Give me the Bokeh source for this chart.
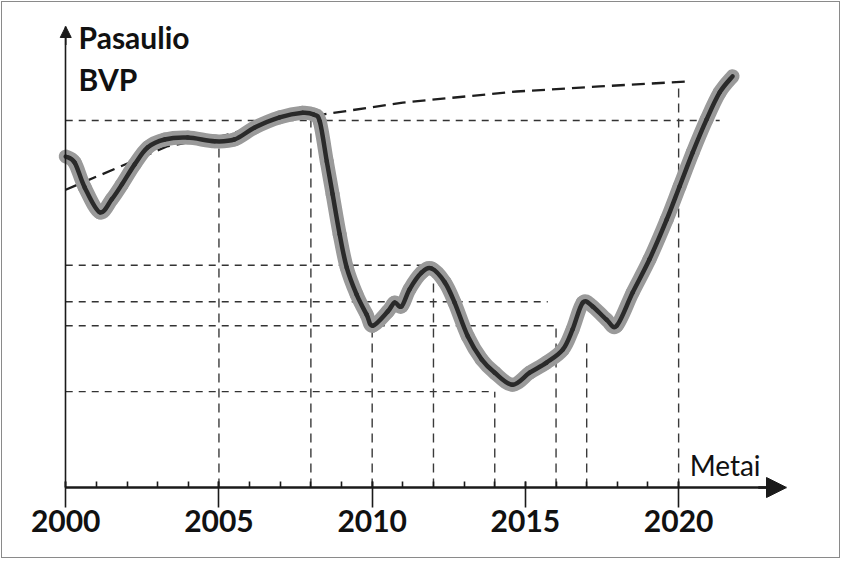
from bokeh.plotting import figure
from bokeh.models import Range1d, FixedTicker, Arrow, NormalHead, Label, ColumnDataSource
from bokeh.core.properties import value
from bokeh.embed import file_html
from bokeh.resources import INLINE

# ---- data (BVP in arbitrary index units, axis = 0, arrow tip = 100) ----
years = [2000.00, 2000.29, 2000.62, 2001.11, 2001.50, 2001.83, 2002.25, 2002.68, 2003.23, 2003.98,
         2004.86, 2005.51, 2006.17, 2006.98, 2007.73, 2008.09, 2008.29, 2008.52, 2008.71, 2008.94,
         2009.17, 2009.49, 2009.82, 2010.02, 2010.51, 2010.73, 2010.96, 2011.22, 2011.61, 2011.94,
         2012.37, 2012.69, 2013.12, 2013.57, 2014.00, 2014.58, 2015.14, 2015.69, 2016.22, 2016.54,
         2016.87, 2017.19, 2017.65, 2017.98, 2018.50, 2019.05, 2019.61, 2020.03, 2020.46, 2020.91,
         2021.34, 2021.76]
bvp = [71.8, 70.5, 65.1, 59.7, 62.5, 65.7, 70.1, 73.8, 75.5, 75.9,
       75.1, 75.5, 78.1, 80.3, 81.3, 80.9, 79.4, 70.7, 63.6, 54.9,
       47.7, 41.9, 37.5, 35.1, 38.2, 40.1, 39.3, 43.0, 46.6, 47.5,
       44.5, 40.1, 32.8, 27.8, 24.9, 22.3, 24.9, 27.1, 29.9, 34.3,
       40.1, 39.3, 36.4, 35.1, 42.3, 49.5, 58.1, 65.3, 72.7, 79.8,
       85.7, 89.2]

trend_years = [2000.0, 2002.09, 2003.30, 2005.02, 2006.66, 2008.38, 2011.0, 2014.71, 2017.42, 2020.35]
trend_vals = [64.6, 70.5, 74.0, 76.1, 79.0, 80.9, 83.5, 85.9, 87.0, 88.1]

level_vals = [79.6, 48.2, 40.3, 35.1, 20.8]
level_ends = [2021.34, 2012.0, 2015.73, 2016.0, 2014.0]

guide_years = [2005, 2008, 2010, 2012, 2014, 2016, 2017, 2020]
guide_tops = [75.1, 79.8, 35.1, 47.5, 20.8, 34.7, 32.1, 88.1]

tick_years = [2000, 2005, 2010, 2015, 2020]
minor_years = list(range(2000, 2021))

FONT = "Lato"


def smooth_segments(xs, ys):
    """Cubic Bezier control points (Catmull-Rom) so the drawn stroke is smooth."""
    n = len(xs)
    x0, y0, x1, y1, cx0, cy0, cx1, cy1 = [], [], [], [], [], [], [], []
    for i in range(n - 1):
        ip = max(i - 1, 0)
        inn = min(i + 2, n - 1)
        x0.append(xs[i]); y0.append(ys[i]); x1.append(xs[i + 1]); y1.append(ys[i + 1])
        cx0.append(xs[i] + (xs[i + 1] - xs[ip]) / 6.0)
        cy0.append(ys[i] + (ys[i + 1] - ys[ip]) / 6.0)
        cx1.append(xs[i + 1] - (xs[inn] - xs[i]) / 6.0)
        cy1.append(ys[i + 1] - (ys[inn] - ys[i]) / 6.0)
    return ColumnDataSource(dict(x0=x0, y0=y0, x1=x1, y1=y1, cx0=cx0, cy0=cy0, cx1=cx1, cy1=cy1))


p = figure(width=839, height=557, output_backend="svg", toolbar_location=None,
           x_range=Range1d(1998.10, 2023.52), y_range=Range1d(-12.36, 103.04),
           min_border_left=5, min_border_right=55, min_border_top=10, min_border_bottom=15)
p.grid.visible = False
p.outline_line_color = None
p.background_fill_color = "white"
p.border_fill_color = "white"
p.styles = {"border": "1.5px solid #8a8a8a", "margin": "1px"}

# x axis (sits at BVP = 0 inside the frame so the arrow head is not clipped)
xa = p.xaxis[0]
xa.fixed_location = 0
xa.ticker = FixedTicker(ticks=tick_years, minor_ticks=minor_years)
xa.bounds = (2000, 2023.0)
xa.axis_line_width = 2.5
xa.axis_line_color = "#1a1a1a"
xa.major_tick_in = 6
xa.major_tick_out = 20
xa.major_tick_line_width = 1.6
xa.major_tick_line_color = "#1a1a1a"
xa.minor_tick_in = 6
xa.minor_tick_out = 0
xa.minor_tick_line_width = 1.6
xa.minor_tick_line_color = "#1a1a1a"
xa.major_label_text_font = FONT
xa.major_label_text_font_style = "bold"
xa.major_label_text_font_size = "30px"
xa.major_label_text_color = "#111111"
xa.major_label_standoff = 2

# y axis (line only, at year 2000)
ya = p.yaxis[0]
ya.fixed_location = 2000
ya.ticker = FixedTicker(ticks=[], minor_ticks=[])
ya.bounds = (0, 100)
ya.axis_line_width = 1.6
ya.axis_line_color = "#1a1a1a"
ya.major_tick_line_color = None
ya.minor_tick_line_color = None
ya.major_label_standoff = 0

# dashed reference levels and guides
lv = ColumnDataSource(dict(x0=[2000] * len(level_vals), x1=level_ends, y=level_vals))
p.segment(x0="x0", y0="y", x1="x1", y1="y", source=lv, line_color="#333333",
          line_width=1.4, line_dash="7 6")
gd = ColumnDataSource(dict(x=guide_years, y0=[0] * len(guide_years), y1=guide_tops))
p.segment(x0="x", y0="y0", x1="x", y1="y1", source=gd, line_color="#3a3a3a",
          line_width=1.4, line_dash="9 6")

# trend dashed line
p.line(trend_years, trend_vals, line_color="#1e1e1e", line_width=2.3, line_dash="13 7")

# main curve: gray band + dark stroke (smooth cubic segments through the read points)
src = smooth_segments(years, bvp)
p.bezier(x0="x0", y0="y0", x1="x1", y1="y1", cx0="cx0", cy0="cy0", cx1="cx1", cy1="cy1",
         source=src, line_color="#9a9a9a", line_width=14, line_cap="round")
p.bezier(x0="x0", y0="y0", x1="x1", y1="y1", cx0="cx0", cy0="cy0", cx1="cx1", cy1="cy1",
         source=src, line_color="#2a2a2a", line_width=4.5, line_cap="round")

# axis arrows
p.add_layout(Arrow(end=NormalHead(size=20, fill_color="#1a1a1a", line_color="#1a1a1a"),
                   x_start=2022.6, y_start=0, x_end=2023.52, y_end=0,
                   line_color="#1a1a1a", line_width=2.5))
p.add_layout(Arrow(end=NormalHead(size=11, fill_color="#1a1a1a", line_color="#1a1a1a"),
                   x_start=2000, y_start=96, x_end=2000, y_end=100,
                   line_color="#1a1a1a", line_width=1.6))

# texts
p.add_layout(Label(x=2000.42, y=97.8, text="Pasaulio", text_font=FONT, text_font_style="bold",
                   text_font_size="30px", text_baseline="middle", text_color="#111111"))
p.add_layout(Label(x=2000.42, y=88.7, text="BVP", text_font=FONT, text_font_style="bold",
                   text_font_size="30px", text_baseline="middle", text_color="#111111"))
p.add_layout(Label(x=2020.36, y=4.8, text="Metai", text_font=FONT,
                   text_font_size="28px", text_baseline="middle", text_color="#111111"))

open("out.html", "w").write(file_html(p, INLINE))
